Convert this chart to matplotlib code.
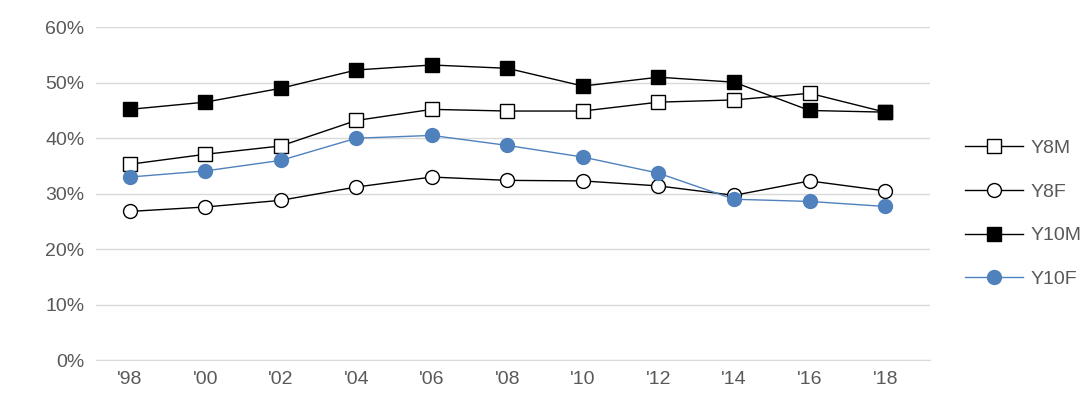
import matplotlib.pyplot as plt
from matplotlib.ticker import PercentFormatter

years = ["'98", "'00", "'02", "'04", "'06", "'08", "'10", "'12", "'14", "'16", "'18"]
y8m = [35.3, 37.1, 38.6, 43.2, 45.2, 44.9, 44.9, 46.5, 46.9, 48.1, 44.7]
y8f = [26.8, 27.6, 28.8, 31.2, 33.0, 32.4, 32.3, 31.4, 29.7, 32.3, 30.5]
y10m = [45.2, 46.5, 49.0, 52.3, 53.2, 52.6, 49.4, 51.0, 50.1, 45.0, 44.7]
y10f = [33.0, 34.1, 36.0, 40.0, 40.5, 38.7, 36.6, 33.7, 29.0, 28.6, 27.7]

plt.rcParams['font.family'] = ['Liberation Sans', 'DejaVu Sans']
fig = plt.figure(figsize=(10.87, 4.01), dpi=100)
ax = fig.add_axes([0.088, 0.102, 0.768, 0.83])
x = range(len(years))

ax.plot(x, y8m, '-s', color='black', mfc='white', ms=10, lw=1, label='Y8M')
ax.plot(x, y8f, '-o', color='black', mfc='white', ms=10, lw=1, label='Y8F')
ax.plot(x, y10m, '-s', color='black', mfc='black', ms=10, lw=1, label='Y10M')
ax.plot(x, y10f, '-o', color='#4F81BD', mfc='#4F81BD', ms=10, lw=1, label='Y10F')

ax.set_ylim(0, 60)
ax.set_yticks(range(0, 61, 10))
ax.yaxis.set_major_formatter(PercentFormatter(decimals=0))
ax.set_xticks(list(x))
ax.set_xticklabels(years)
ax.set_xlim(-0.45, 10.6)
ax.grid(axis='y', color='#D9D9D9', lw=1)
ax.set_axisbelow(True)
for s in ['top', 'right', 'left']:
    ax.spines[s].set_visible(False)
ax.spines['bottom'].set_color('#D9D9D9')
ax.tick_params(length=0, labelsize=14, colors='#595959', pad=8)
ax.legend(loc='center left', bbox_to_anchor=(1.02, 0.44), frameon=False,
          fontsize=14, labelcolor='#595959', labelspacing=1.35, handlelength=3.0,
          handletextpad=0.4)

fig.savefig('out.png')
